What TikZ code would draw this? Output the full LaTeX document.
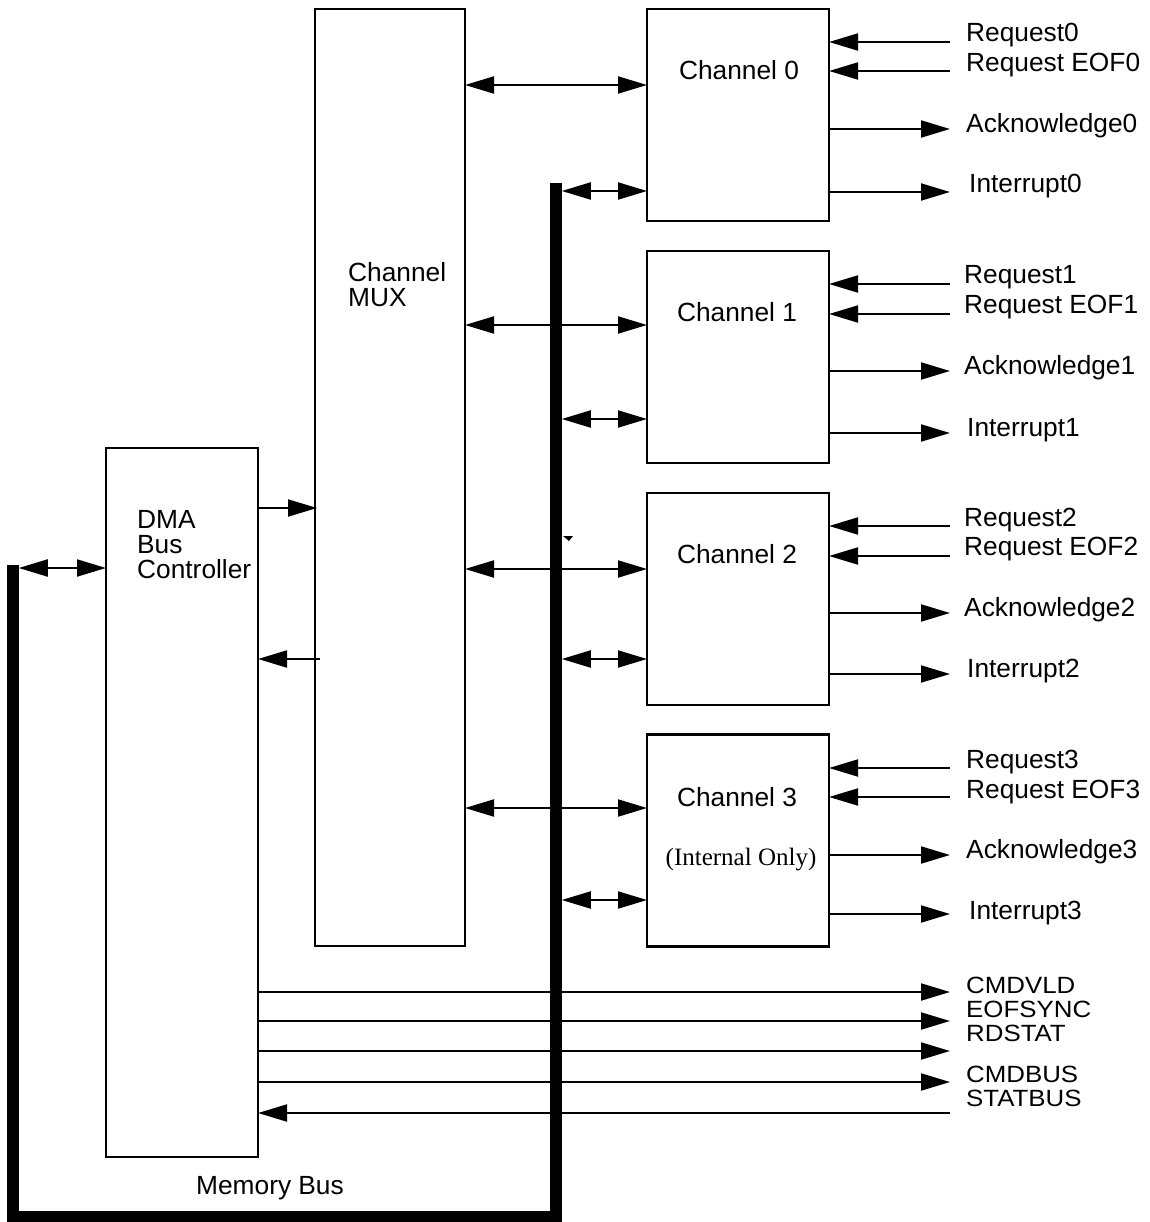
\documentclass[tikz,border=0pt]{standalone}
\usepackage{fontspec}
\setmainfont{Liberation Sans}
\newfontfamily\serifx{Liberation Serif}
\usetikzlibrary{arrows.meta}
\newcommand{\wide}[1]{\scalebox{1.1}[1]{#1}}
\tikzset{
  >={Triangle[length=29pt,width=17pt]},
  box/.style={draw, rectangle, line width=2.2pt, inner sep=0pt, outer sep=0pt},
  chan/.style={box, minimum width=182pt, minimum height=212pt},
  sig/.style={line width=2pt},
  membus/.style={line width=11.5pt, line cap=butt, line join=miter},
  lbl/.style={font=\fontsize{26.3}{25}\selectfont, inner sep=0pt, anchor=base west},
  blbl/.style={font=\fontsize{23.5}{23}\selectfont, inner sep=0pt, anchor=base west},
  ttl/.style={font=\fontsize{26.3}{25}\selectfont, inner sep=0pt},
}
\begin{document}
\begin{tikzpicture}[x=1pt,y=-1pt]
\useasboundingbox (0,0) rectangle (1149,1222);
% boxes
\node[box, minimum width=150pt, minimum height=937pt] (mux) at (390,477.5) {};
\node[box, minimum width=152pt, minimum height=709pt] (dma) at (182,802.5) {};
\node[chan] (ch0) at (738,115) {};
\node[chan] (ch1) at (738,357) {};
\node[chan] (ch2) at (738,599) {};
\node[chan] (ch3) at (738,840.5) {};
% titles
\node[ttl] (t0) at (739,70) {Channel 0};
\node[ttl] (t1) at (737,312) {Channel 1};
\node[ttl] (t2) at (737,554) {Channel 2};
\node[ttl] (t3) at (737,797) {Channel 3};
\node[inner sep=0pt, font=\serifx\fontsize{25}{25}\selectfont] (t3b) at (741,860) {(Internal Only)};
\node[ttl, align=left, anchor=west] (tmux) at (348,284.5) {Channel\\MUX};
\node[ttl, align=left, anchor=west] (tdma) at (137,545) {DMA\\Bus\\Controller};
\node[ttl] (tmem) at (270,1188) {Memory Bus};
% memory bus
\draw[membus] (13,565) -- (13,1216.5) -- (556,1216.5) -- (556,183);
\coordinate (busL) at (18.75,0);
\coordinate (busR) at (561.75,0);
\coordinate (sigend) at (950,0);
\fill (563,536) -- (573,536) -- (569,541) -- cycle;
% DMA links
\draw[sig,<->] (busL |- 0,568) -- (dma.west |- 0,568);
\draw[sig,->] (dma.east |- 0,508) -- ([xshift=2pt]mux.west |- 0,508);
\draw[sig,->] ([xshift=5pt]mux.west |- 0,659) -- (dma.east |- 0,659);
% MUX <-> channels
\draw[sig,<->] (mux.east |- 0,85) -- (ch0.west |- 0,85);
\draw[sig,<->] (mux.east |- 0,325) -- (ch1.west |- 0,325);
\draw[sig,<->] (mux.east |- 0,569) -- (ch2.west |- 0,569);
\draw[sig,<->] (mux.east |- 0,808) -- (ch3.west |- 0,808);
% bus <-> channels
\draw[sig,<->] (busR |- 0,191) -- (ch0.west |- 0,191);
\draw[sig,<->] (busR |- 0,419) -- (ch1.west |- 0,419);
\draw[sig,<->] (busR |- 0,659) -- (ch2.west |- 0,659);
\draw[sig,<->] (busR |- 0,900) -- (ch3.west |- 0,900);
% channel 0 signals
\draw[sig,->] (sigend |- 0,42) -- (ch0.east |- 0,42);
\draw[sig,->] (sigend |- 0,71) -- (ch0.east |- 0,71);
\draw[sig,->] (ch0.east |- 0,129) -- (sigend |- 0,129);
\draw[sig,->] (ch0.east |- 0,192) -- (sigend |- 0,192);
\node[lbl] (r0) at (966,41.5) {Request0};
\node[lbl] (e0) at (966,71.5) {Request EOF0};
\node[lbl] (a0) at (966,132.5) {Acknowledge0};
\node[lbl] (i0) at (969,192.5) {Interrupt0};
% channel 1 signals
\draw[sig,->] (sigend |- 0,284) -- (ch1.east |- 0,284);
\draw[sig,->] (sigend |- 0,314) -- (ch1.east |- 0,314);
\draw[sig,->] (ch1.east |- 0,371) -- (sigend |- 0,371);
\draw[sig,->] (ch1.east |- 0,433) -- (sigend |- 0,433);
\node[lbl] (r1) at (964,283.5) {Request1};
\node[lbl] (e1) at (964,313.5) {Request EOF1};
\node[lbl] (a1) at (964,374.5) {Acknowledge1};
\node[lbl] (i1) at (967,436.5) {Interrupt1};
% channel 2 signals
\draw[sig,->] (sigend |- 0,526) -- (ch2.east |- 0,526);
\draw[sig,->] (sigend |- 0,556) -- (ch2.east |- 0,556);
\draw[sig,->] (ch2.east |- 0,613) -- (sigend |- 0,613);
\draw[sig,->] (ch2.east |- 0,674) -- (sigend |- 0,674);
\node[lbl] (r2) at (964,526.5) {Request2};
\node[lbl] (e2) at (964,555.5) {Request EOF2};
\node[lbl] (a2) at (964,616.5) {Acknowledge2};
\node[lbl] (i2) at (967,677.5) {Interrupt2};
% channel 3 signals
\draw[sig,->] (sigend |- 0,768) -- (ch3.east |- 0,768);
\draw[sig,->] (sigend |- 0,797) -- (ch3.east |- 0,797);
\draw[sig,->] (ch3.east |- 0,855) -- (sigend |- 0,855);
\draw[sig,->] (ch3.east |- 0,914) -- (sigend |- 0,914);
\node[lbl] (r3) at (966,768.5) {Request3};
\node[lbl] (e3) at (966,798.5) {Request EOF3};
\node[lbl] (a3) at (966,858.5) {Acknowledge3};
\node[lbl] (i3) at (969,919.5) {Interrupt3};
% bottom control signals
\draw[sig,->] (dma.east |- 0,992) -- (sigend |- 0,992);
\draw[sig,->] (dma.east |- 0,1021) -- (sigend |- 0,1021);
\draw[sig,->] (dma.east |- 0,1051) -- (sigend |- 0,1051);
\draw[sig,->] (dma.east |- 0,1082) -- (sigend |- 0,1082);
\draw[sig,->] (sigend |- 0,1113) -- (dma.east |- 0,1113);
\node[blbl] (s1) at (966,993) {\wide{CMDVLD}};
\node[blbl] (s2) at (966,1017) {\wide{EOFSYNC}};
\node[blbl] (s3) at (966,1041.5) {\wide{RDSTAT}};
\node[blbl] (s4) at (966,1082.5) {\wide{CMDBUS}};
\node[blbl] (s5) at (966,1106) {\wide{STATBUS}};
\end{tikzpicture}
\end{document}
